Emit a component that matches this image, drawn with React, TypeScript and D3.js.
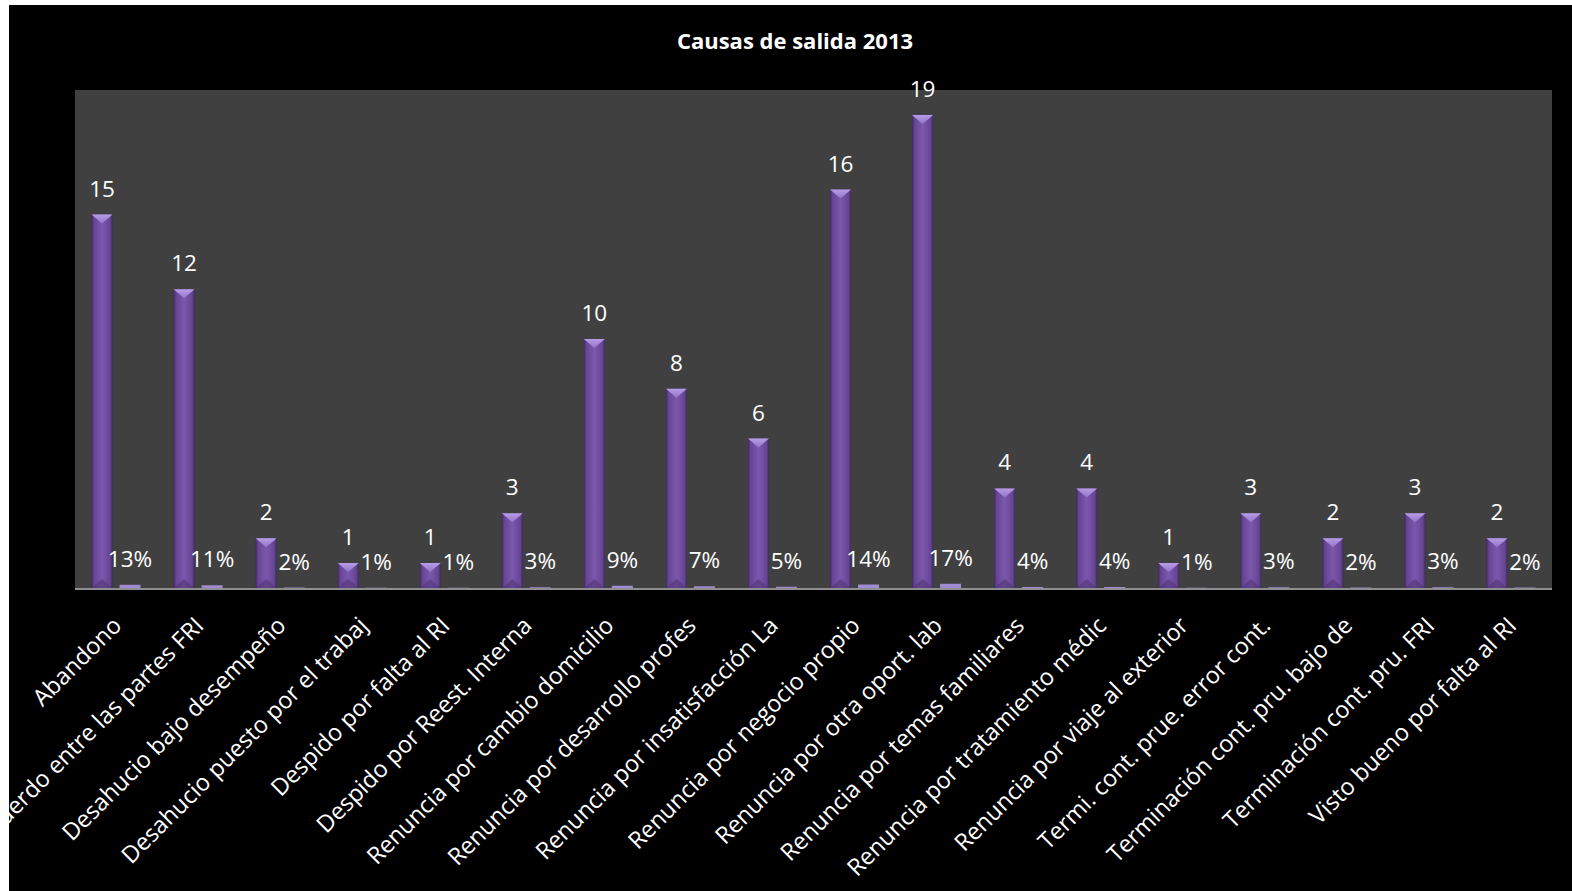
import React from "react";
import * as d3 from "d3";

const categories = [
  "Abandono",
  "Acuerdo entre las partes FRI",
  "Desahucio bajo desempeño",
  "Desahucio puesto por el trabaj",
  "Despido por falta al RI",
  "Despido por Reest. Interna",
  "Renuncia por cambio domicilio",
  "Renuncia por desarrollo profes",
  "Renuncia por insatisfacción La",
  "Renuncia por negocio propio",
  "Renuncia por otra oport. lab",
  "Renuncia por temas familiares",
  "Renuncia por tratamiento médic",
  "Renuncia por viaje al exterior",
  "Termi. cont. prue. error cont.",
  "Terminación cont. pru. bajo de",
  "Terminación cont. pru. FRI",
  "Visto bueno por falta al RI",
];

const counts = [15, 12, 2, 1, 1, 3, 10, 8, 6, 16, 19, 4, 4, 1, 3, 2, 3, 2];
const percents = [0.13, 0.11, 0.02, 0.01, 0.01, 0.03, 0.09, 0.07, 0.05, 0.14, 0.17, 0.04, 0.04, 0.01, 0.03, 0.02, 0.03, 0.02];
const yDomain = [0, 20];
const title = "Causas de salida 2013";

const W = 1572;
const H = 891;
const plot = { left: 75, right: 1552, top: 90, bottom: 588 };
const FONT = "'Open Sans', 'DejaVu Sans', sans-serif";

export default function App() {
  const x = d3
    .scaleBand<string>()
    .domain(categories)
    .range([plot.left, plot.right])
    .paddingInner(0)
    .paddingOuter(0);
  const y = d3.scaleLinear().domain(yDomain).range([plot.bottom, plot.top]);
  const barW = 21;
  const off = 14;
  const pctFmt = d3.format(".0%");

  const bar = (cx: number, v: number) => {
    const x0 = cx - barW / 2;
    const x1 = cx + barW / 2;
    const top = y(v);
    const bot = y(0);
    const h = bot - top;
    const bev = Math.min(9, h / 2);
    return { x0, x1, top, bot, h, bev };
  };

  return (
    <>
      <style>{`body{margin:0}`}</style>
      <svg width={W} height={H} style={{ display: "block" }} fontFamily={FONT}>
        <defs>
          <linearGradient id="body" x1="0" x2="1" y1="0" y2="0">
            <stop offset="0%" stopColor="#3f2a5c" />
            <stop offset="12%" stopColor="#664594" />
            <stop offset="50%" stopColor="#7c58ad" />
            <stop offset="88%" stopColor="#664594" />
            <stop offset="100%" stopColor="#3f2a5c" />
          </linearGradient>
          <linearGradient id="topf" x1="0" x2="0" y1="0" y2="1">
            <stop offset="0%" stopColor="#b89ce6" />
            <stop offset="100%" stopColor="#9275c8" />
          </linearGradient>
          <clipPath id="blk">
            <rect x={9} y={5} width={W - 9} height={H - 5} />
          </clipPath>
        </defs>
        <rect x={0} y={0} width={W} height={H} fill="#ffffff" />
        <rect x={9} y={5} width={W - 9} height={H - 5} fill="#000000" />
        <rect
          x={plot.left}
          y={plot.top}
          width={plot.right - plot.left}
          height={plot.bottom - plot.top}
          fill="#404040"
        />
        <text
          x={795}
          y={49}
          textAnchor="middle"
          fill="#ffffff"
          fontWeight={700}
          fontSize={22}
        >
          {title}
        </text>

        {categories.map((c, i) => {
          const gc = (x(c) as number) + x.bandwidth() / 2;
          const b = bar(gc - off, counts[i]);
          const p = bar(gc + off, percents[i]);
          const cx = gc - off;
          return (
            <g key={c}>
              <rect x={b.x0} y={b.top} width={barW} height={b.h} fill="url(#body)" />
              <path
                d={`M${b.x0},${b.top}L${b.x1},${b.top}L${cx},${b.top + b.bev}Z`}
                fill="url(#topf)"
              />
              <path
                d={`M${b.x0},${b.bot}L${b.x1},${b.bot}L${cx},${b.bot - b.bev}Z`}
                fill="#4f3574"
                opacity={0.6}
              />
              <rect x={p.x0} y={p.top} width={barW} height={p.h} fill="#a08bd2" />
              <text
                x={cx}
                y={b.top - 18}
                textAnchor="middle"
                fill="#ffffff"
                fontSize={22.5}
              >
                {counts[i]}
              </text>
              <text
                x={gc + off}
                y={p.top - 18}
                textAnchor="middle"
                fill="#ffffff"
                fontSize={22.5}
              >
                {pctFmt(percents[i])}
              </text>
            </g>
          );
        })}

        <line
          x1={plot.left}
          x2={plot.right}
          y1={plot.bottom + 1}
          y2={plot.bottom + 1}
          stroke="#8f8f8f"
          strokeWidth={2}
        />

        <g clipPath="url(#blk)">
          {categories.map((c) => {
            const gc = (x(c) as number) + x.bandwidth() / 2;
            return (
              <text
                key={c}
                transform={`translate(${gc + 7},${627}) rotate(-45)`}
                textAnchor="end"
                fill="#ffffff"
                fontSize={23.5}
              >
                {c}
              </text>
            );
          })}
        </g>
      </svg>
    </>
  );
}
